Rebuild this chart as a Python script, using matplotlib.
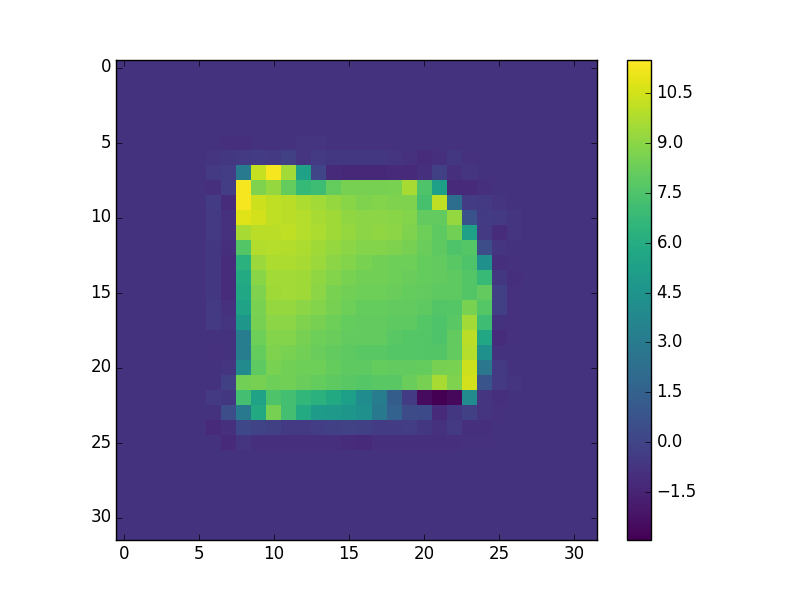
import numpy as np
import matplotlib
matplotlib.use("Agg")
import matplotlib.pyplot as plt

background = -0.8
first_row = 5
first_col = 6

# cell values, columns 6 to 26
row_05 = [-0.8, -1.0, -1.0, -0.8, -0.8, -0.8, -0.7, -0.7, -0.8, -0.8, -0.8, -0.8, -0.8, -0.8, -0.8, -0.8, -0.8, -0.8, -0.8, -0.8, -0.8]
row_06 = [-0.7, -0.6, -0.5, -0.4, -0.5, -0.2, -0.7, -0.5, -0.6, -0.6, -0.6, -0.6, -0.7, -0.9, -1.1, -1.0, -0.6, -0.9, -0.8, -0.8, -0.8]
row_07 = [-0.5, -0.3, 3.0, 10.2, 11.3, 9.5, 5.3, 0.1, -1.2, -1.3, -1.3, -1.3, -1.2, -1.2, -1.0, -0.2, -1.0, -0.7, -0.8, -0.8, -0.8]
row_08 = [-1.0, -0.3, 11.3, 8.7, 9.2, 8.1, 6.7, 7.0, 8.1, 8.5, 8.5, 8.5, 8.6, 9.6, 7.5, 5.2, -1.2, -1.2, -1.0, -0.8, -0.8]
row_09 = [-0.4, -1.1, 11.3, 10.4, 10.1, 10.0, 9.7, 9.5, 9.2, 8.9, 8.7, 8.8, 8.7, 8.7, 7.3, 10.1, 2.3, -0.4, -0.5, -0.7, -0.8]
row_10 = [-0.5, -0.9, 10.8, 10.5, 10.1, 10.0, 9.9, 9.6, 9.4, 9.1, 9.0, 9.0, 8.9, 8.8, 8.0, 8.0, 9.2, 0.7, -0.4, -0.5, -0.7]
row_11 = [-0.5, -0.9, 9.6, 10.0, 10.0, 10.1, 9.9, 9.7, 9.4, 9.2, 9.0, 9.1, 9.0, 8.7, 8.3, 7.9, 8.4, 5.3, -0.5, -1.1, -0.7]
row_12 = [-0.6, -1.0, 7.6, 9.8, 9.9, 9.8, 9.7, 9.4, 9.2, 9.0, 8.8, 8.8, 8.7, 8.5, 8.2, 7.9, 7.5, 7.7, 0.5, -0.7, -0.8]
row_13 = [-0.6, -1.1, 6.3, 9.3, 9.7, 9.7, 9.6, 9.3, 9.0, 8.8, 8.6, 8.4, 8.3, 8.3, 8.1, 8.0, 7.8, 7.5, 4.3, -1.0, -0.9]
row_14 = [-0.6, -1.1, 5.9, 8.9, 9.5, 9.5, 9.4, 9.1, 8.8, 8.6, 8.4, 8.4, 8.3, 8.2, 8.1, 8.0, 7.9, 7.6, 6.8, -0.6, -1.0]
row_15 = [-0.6, -1.1, 5.7, 8.7, 9.4, 9.5, 9.4, 9.0, 8.6, 8.4, 8.3, 8.3, 8.2, 8.1, 8.0, 7.9, 7.9, 7.6, 8.0, -0.2, -0.9]
row_16 = [-0.5, -0.9, 5.4, 8.6, 9.2, 9.2, 9.0, 8.8, 8.5, 8.3, 8.1, 8.1, 8.0, 8.0, 7.9, 7.6, 7.7, 8.6, 7.7, -0.2, -0.9]
row_17 = [-0.5, -0.7, 4.7, 8.5, 9.0, 9.0, 8.7, 8.5, 8.3, 8.1, 8.0, 8.0, 7.9, 7.9, 7.7, 7.5, 7.8, 9.5, 7.0, -0.8, -0.9]
row_18 = [-0.8, -0.8, 3.2, 8.3, 8.8, 8.8, 8.5, 8.3, 8.2, 8.0, 8.0, 8.0, 7.8, 7.7, 7.6, 7.5, 8.0, 10.0, 5.7, -1.1, -0.9]
row_19 = [-0.9, -0.8, 3.1, 8.1, 8.7, 8.6, 8.4, 8.2, 8.0, 7.9, 7.8, 7.8, 7.7, 7.7, 7.6, 7.6, 8.0, 9.9, 4.3, -0.8, -0.8]
row_20 = [-0.8, -0.7, 3.9, 7.9, 8.6, 8.4, 8.3, 8.3, 8.1, 7.9, 7.9, 8.1, 8.0, 8.0, 8.1, 8.5, 8.6, 10.4, 2.8, -0.5, -0.8]
row_21 = [-0.8, -0.2, 8.4, 8.5, 8.3, 8.4, 8.2, 8.1, 7.9, 7.8, 7.7, 7.8, 7.8, 8.2, 8.5, 9.6, 8.7, 10.5, 0.8, -0.5, -0.7]
row_22 = [-0.5, -0.6, 7.2, 5.4, 7.5, 7.2, 6.6, 6.3, 5.8, 5.2, 4.1, 3.1, 1.3, -0.4, -2.5, -2.9, -2.6, 4.0, -0.7, -1.0, -0.8]
row_23 = [-0.8, 0.5, 2.9, 5.8, 8.5, 7.2, 5.9, 5.0, 4.8, 4.7, 4.3, 2.9, 1.6, 0.4, 0.3, -1.2, -0.6, -0.2, -0.7, -0.9, -0.8]
row_24 = [-1.2, -1.0, 0.2, 0.0, -0.2, -0.5, -0.5, -0.3, -0.2, -0.1, -0.2, -0.4, -0.4, -0.3, -0.6, -0.9, -0.5, -1.0, -1.0, -0.8, -0.8]
row_25 = [-0.8, -1.2, -0.7, -1.0, -1.0, -1.0, -1.0, -1.0, -1.0, -1.1, -1.2, -1.0, -1.0, -1.0, -1.0, -1.0, -1.0, -0.9, -0.9, -0.8, -0.8]
rows = [row_05, row_06, row_07, row_08, row_09, row_10, row_11, row_12, row_13, row_14, row_15,
        row_16, row_17, row_18, row_19, row_20, row_21, row_22, row_23, row_24, row_25]

x_ticks = [0, 5, 10, 15, 20, 25, 30]
y_ticks = [0, 5, 10, 15, 20, 25, 30]
cbar_ticks = [-1.5, 0.0, 1.5, 3.0, 4.5, 6.0, 7.5, 9.0, 10.5]

image = np.full((32, 32), background)
for i, row in enumerate(rows):
    image[first_row + i, first_col:first_col + len(row)] = row

plt.rcParams["font.size"] = 12
plt.rcParams["axes.linewidth"] = 1.0
fig = plt.figure(figsize=(8, 6), dpi=100)
ax = fig.add_axes([116 / 800, 60 / 600, 481 / 800, 480 / 600])
im = ax.imshow(image, cmap="viridis", vmin=-2.93, vmax=11.48, interpolation="nearest", aspect="equal")
ax.set_xticks(x_ticks)
ax.set_yticks(y_ticks)
ax.tick_params(direction="in", top=True, right=True, length=4, width=0.5, labelsize=12)
for label in ax.get_yticklabels():
    label.set_va("center")

cax = fig.add_axes([627 / 800, 60 / 600, 24 / 800, 480 / 600])
cbar = fig.colorbar(im, cax=cax, ticks=cbar_ticks)
cbar.ax.set_yticklabels([f"{t:.1f}".replace("-", "\u2212") for t in cbar_ticks])
cbar.ax.tick_params(direction="in", length=4, width=0.5, labelsize=12, pad=4)
for label in cbar.ax.get_yticklabels():
    label.set_va("center")

plt.savefig("out.png", dpi=100)
plt.close()
